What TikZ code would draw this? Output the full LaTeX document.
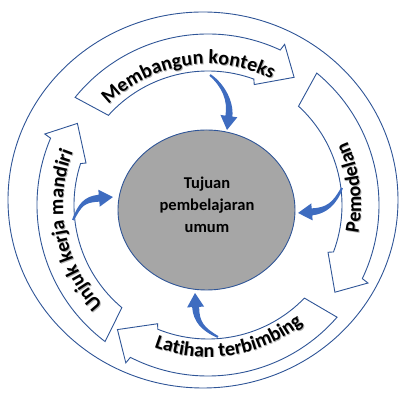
\documentclass[tikz,border=0pt]{standalone}
\usepackage{fontspec}
\setmainfont{Carlito}
\usetikzlibrary{shapes.geometric,decorations.text,calc}
\definecolor{bandblue}{RGB}{47,85,151}
\definecolor{arrowblue}{RGB}{62,108,192}
\definecolor{goalgrey}{RGB}{166,166,166}
\newcommand{\bandfont}{\fontsize{20}{20}\selectfont\bfseries}
\tikzset{
  bandline/.style={draw=bandblue, line width=0.9pt, fill=white, line join=miter},
  bandarrow/.pic={
    \path[bandline] (85:171) arc[start angle=85,end angle=9,radius=171] -- (8.5:178) -- (0:154)
      -- (13:129) -- (14:134) arc[start angle=14,end angle=82,radius=134] -- cycle;
  },
  bluearrow/.pic={
    \fill[arrowblue] (0.57,-0.82) .. controls (15.05,8.16) and ({#1-27.55},9.55) .. ({#1-14.17},2.75)
      -- ({#1-16.29},-1.78) -- (#1,0) -- ({#1-9.09},13.62) -- ({#1-11.21},9.09)
      .. controls ({#1-25.01},14.99) and (12.75,11.44) .. (-0.57,0.82) -- cycle;
  },
  bandtext/.style 2 args={decorate, decoration={text along path, text align=center, text color=#2, text={|\bandfont|#1}}},
}
\newcommand{\shadowtext}[4]{%
  \path[xshift=0.9pt,yshift=-0.9pt,bandtext={#1}{black!30}] (#2:#4) arc[start angle=#2,end angle=#3,radius=#4];
  \path[bandtext={#1}{black}] (#2:#4) arc[start angle=#2,end angle=#3,radius=#4];
}
\begin{document}
\begin{tikzpicture}[x=1pt,y=1pt]
\useasboundingbox (-208,-190) rectangle (194,205);
% outer ring
\node[ellipse, draw=bandblue, line width=0.9pt, minimum width=390pt, minimum height=376pt, inner sep=0pt] (ring) at (-5,5) {};
% central goal
\node[ellipse, draw=bandblue, line width=0.9pt, fill=goalgrey, minimum width=177pt, minimum height=160pt, inner sep=0pt] (goal) at (-1.5,-5) {};
\node[font=\fontsize{16.5}{22}\selectfont\bfseries, align=center] (goaltext) at (-1,0.5) {Tujuan\\pembelajaran\\umum};
% band arrows
\pic[rotate=56] (top) at (0,0) {bandarrow};
\pic[rotate=-34.5] (right) at (0,0) {bandarrow};
\pic[rotate=-126] (bottom) at (0,0) {bandarrow};
\pic[rotate=148] (left) at (0,0) {bandarrow};
% band texts
\shadowtext{Membangun konteks}{159}{39}{141}
\shadowtext{Pemodelan}{-53}{67}{153}
\shadowtext{Latihan terbimbing}{-141}{-21}{152}
\shadowtext{Unjuk kerja mandiri}{251}{131}{145}
% small blue arrows into the goal
\coordinate (s1) at (2,130);   \coordinate (t1) at (19,75);
\coordinate (s2) at (134,17);  \coordinate (t2) at (90,-8);
\coordinate (s3) at (10,-132); \coordinate (t3) at (-13,-88);
\coordinate (s4) at (-135,-15); \coordinate (t4) at (-95,8);
\foreach \s/\t in {s1/t1,s2/t2,s3/t3,s4/t4}{
  \path let \p1=($(\t)-(\s)$), \n1={atan2(\y1,\x1)}, \n2={veclen(\x1,\y1)} in
    pic[rotate=\n1] at (\s) {bluearrow=\n2};
}
\end{tikzpicture}
\end{document}
